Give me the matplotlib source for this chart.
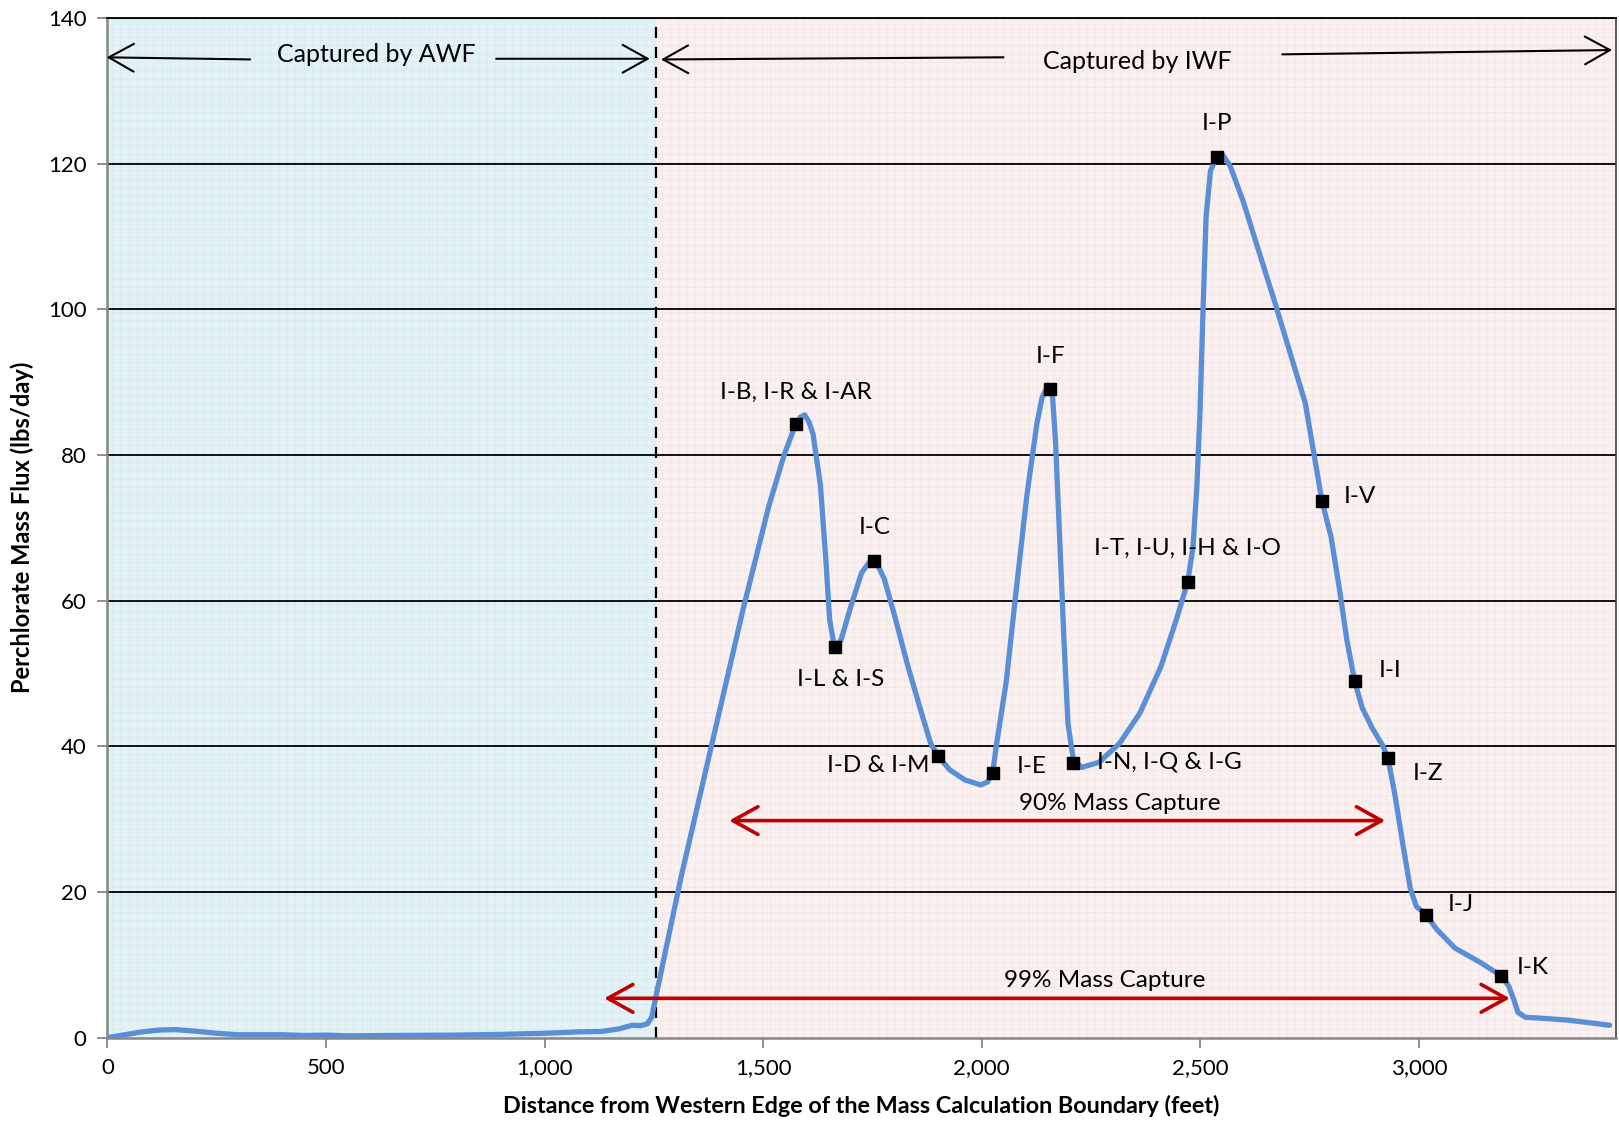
import numpy as np
import matplotlib.pyplot as plt

plt.rcParams['font.family'] = ['Lato', 'DejaVu Sans']

# mass flux profile along the boundary
dist_ft = [0, 40, 80, 120, 156, 200, 250, 300, 400, 450, 500, 550, 650, 800, 900,
           1000, 1080, 1130, 1170, 1200, 1220, 1235, 1245, 1256, 1312, 1383, 1454,
           1513, 1548, 1574, 1585, 1595, 1605, 1614, 1631, 1643, 1652, 1661, 1667,
           1678, 1702, 1725, 1744, 1756, 1777, 1803, 1831, 1862, 1883, 1900, 1926,
           1961, 1997, 2013, 2025, 2034, 2056, 2079, 2103, 2126, 2138, 2152, 2162,
           2169, 2178, 2188, 2197, 2209, 2228, 2268, 2315, 2362, 2410, 2445, 2471,
           2483, 2492, 2499, 2506, 2513, 2523, 2537, 2551, 2568, 2598, 2670, 2740,
           2778, 2799, 2818, 2835, 2853, 2870, 2893, 2917, 2929, 2945, 2964, 2980,
           2994, 3016, 3040, 3082, 3141, 3188, 3205, 3217, 3226, 3243, 3271, 3342,
           3436]
flux = [0, 0.4, 0.8, 1.05, 1.1, 0.9, 0.6, 0.4, 0.4, 0.3, 0.35, 0.25, 0.3, 0.35, 0.45,
        0.6, 0.8, 0.85, 1.2, 1.7, 1.65, 1.9, 2.8, 6, 22, 40.4, 58.8,
        73, 80, 84.2, 85.2, 85.5, 84.5, 82.9, 75.8, 65.9, 57.4, 54.3, 53.8,
        54.6, 59.5, 63.8, 65.4, 65.6, 63, 57.4, 51, 44.6, 40.4, 38.7, 36.8,
        35.4, 34.7, 35.1, 36.4, 40.4, 48.9, 61.6, 74.4, 84.3, 87.9, 89.6, 87.9,
        81.5, 68.7, 54.6, 43.2, 38.3, 37.1, 37.8, 40.4, 44.6, 51, 57.4, 62.6,
        67.3, 75.8, 85.7, 99.9, 112.7, 119, 120.9, 121.2, 119.7, 114.8, 101, 87.1,
        73.7, 68.7, 61.6, 54.6, 48.9, 45.3, 42.5, 40.1, 38.4, 33.3, 26.2, 20.5,
        18, 16.9, 14.9, 12.3, 10.3, 8.5, 7.1, 5.2, 3.5, 2.8, 2.7, 2.4,
        1.7]

# extraction wells
well_names = ['I-B, I-R & I-AR', 'I-L & I-S', 'I-C', 'I-D & I-M', 'I-E', 'I-F',
              'I-N, I-Q & I-G', 'I-T, I-U, I-H & I-O', 'I-P', 'I-V', 'I-I', 'I-Z',
              'I-J', 'I-K']
well_x = [1574, 1664, 1753, 1900, 2025, 2157, 2209, 2471, 2537, 2778, 2853, 2929,
          3016, 3188]
well_y = [84.2, 53.7, 65.5, 38.7, 36.4, 89.1, 37.7, 62.6, 120.9, 73.7, 48.9, 38.4,
          16.9, 8.5]

# label placement (offset in points, horizontal alignment)
label_offsets = [(0, 23, 'center'), (4, -24, 'center'), (1, 24, 'center'),
                 (-6, -7, 'right'), (17, 4, 'left'), (0, 23, 'center'),
                 (17, 1, 'left'), (0, 24, 'center'), (0, 24, 'center'),
                 (16, 3, 'left'), (17, 8, 'left'), (18, -11, 'left'),
                 (16, 7, 'left'), (11, 6, 'left')]

awf_limit = 1255
x_max = 3450

fig = plt.figure(figsize=(16.19, 11.23), dpi=100)
ax = fig.add_axes([0.0663, 0.076, 0.9317, 0.908])

plt.rcParams['hatch.linewidth'] = 0.4
ax.axvspan(0, awf_limit, facecolor='#e3f2f6', edgecolor='#d3e9ef', hatch='++', lw=0, zorder=0)
ax.axvspan(awf_limit, x_max, facecolor='#faf0f0', edgecolor='#f1e3e3', hatch='++', lw=0, zorder=0)

for yv in range(20, 141, 20):
    ax.axhline(yv, color='black', lw=1.3, zorder=1)
ax.axvline(awf_limit, color='black', lw=1.6, ls=(0, (5, 4)), zorder=2)

ax.plot(dist_ft, flux, color='#5a8fd6', lw=3.8, solid_joinstyle='round',
        solid_capstyle='round', zorder=3)
ax.plot(well_x, well_y, ls='none', marker='s', ms=8.5, color='black', zorder=4)

for name, wx, wy, (dx, dy, ha) in zip(well_names, well_x, well_y, label_offsets):
    ax.annotate(name, (wx, wy), xytext=(dx, dy), textcoords='offset points',
                ha=ha, va='center', fontsize=17.5, zorder=5)

# capture zone arrows at the top
blk = dict(arrowstyle='->, head_length=0.45, head_width=0.25', color='black',
           lw=1.5, mutation_scale=40)
ax.annotate('', xy=(-8, 134.6), xytext=(333, 134.3), arrowprops=blk,
            annotation_clip=False)
ax.annotate('', xy=(1247, 134.4), xytext=(883, 134.4), arrowprops=blk)
ax.text(616, 135.0, 'Captured by AWF', ha='center', va='center', fontsize=18)
ax.annotate('', xy=(1260, 134.3), xytext=(2056, 134.6), arrowprops=blk)
ax.annotate('', xy=(3448, 135.6), xytext=(2681, 135.0), arrowprops=blk,
            annotation_clip=False)
ax.text(2355, 134.0, 'Captured by IWF', ha='center', va='center', fontsize=18)

# mass capture ranges
red = dict(arrowstyle='<->, head_length=0.45, head_width=0.25', color='#c00000',
           lw=2.6, mutation_scale=40)
ax.annotate('', xy=(1416, 29.8), xytext=(2929, 29.8), arrowprops=red)
ax.text(2315, 32.2, '90% Mass Capture', ha='center', va='center', fontsize=17.5)
ax.annotate('', xy=(1130, 5.4), xytext=(3214, 5.4), arrowprops=red)
ax.text(2282, 7.8, '99% Mass Capture', ha='center', va='center', fontsize=17.5)

ax.set_xlim(0, x_max)
ax.set_ylim(0, 140)
ax.set_xticks([0, 500, 1000, 1500, 2000, 2500, 3000])
ax.set_xticklabels(['0', '500', '1,000', '1,500', '2,000', '2,500', '3,000'])
ax.set_yticks(range(0, 141, 20))
ax.tick_params(axis='both', labelsize=16, color='#868686', length=7, width=1.3, pad=8)

for s in ['left', 'bottom']:
    ax.spines[s].set_color('#868686')
    ax.spines[s].set_linewidth(1.8)
ax.spines['top'].set_color('black')
ax.spines['top'].set_linewidth(1.3)
ax.spines['right'].set_color('#404040')
ax.spines['right'].set_linewidth(1.2)

ax.set_xlabel('Distance from Western Edge of the Mass Calculation Boundary (feet)',
              fontsize=16.8, fontweight='bold', labelpad=12)
ax.set_ylabel('Perchlorate Mass Flux (lbs/day)', fontsize=17, fontweight='bold',
              labelpad=10)

plt.savefig('out.png', dpi=100)
